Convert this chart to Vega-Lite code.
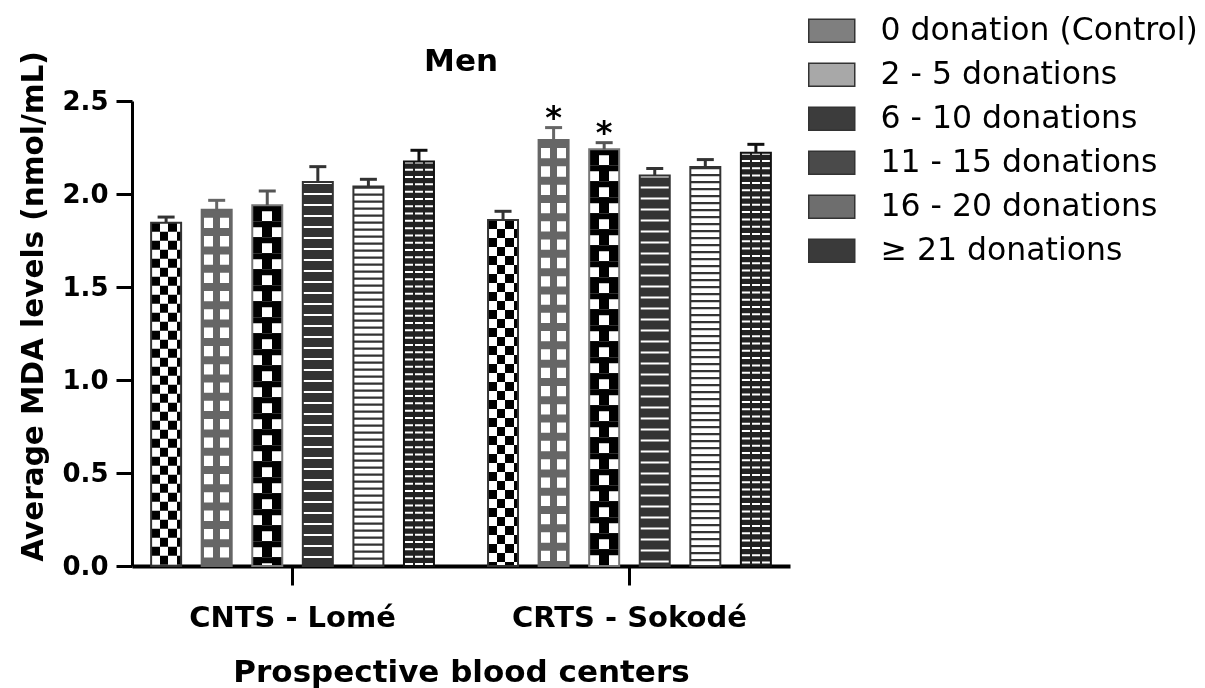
{
  "$schema": "https://vega.github.io/schema/vega-lite/v6.json",
  "autosize": {"type": "none"},
  "padding": {"left": 132, "top": 101, "right": 415, "bottom": 122},
  "width": 658,
  "height": 465,
  "background": "white",
  "config": {"view": {"stroke": null}, "font": "DejaVu Sans"},
  "title": {"text": "Men", "font": "DejaVu Sans", "fontSize": 31, "fontWeight": "bold", "color": "black", "frame": "group", "anchor": "middle", "baseline": "alphabetic", "offset": -87},
  "data": {"values": [
    {"center": "CNTS - Lomé", "group": "0 donation (Control)", "mean": 1.845, "upper": 1.876, "sig": ""},
    {"center": "CNTS - Lomé", "group": "2 - 5 donations", "mean": 1.915, "upper": 1.966, "sig": ""},
    {"center": "CNTS - Lomé", "group": "6 - 10 donations", "mean": 1.94, "upper": 2.016, "sig": ""},
    {"center": "CNTS - Lomé", "group": "11 - 15 donations", "mean": 2.065, "upper": 2.147, "sig": ""},
    {"center": "CNTS - Lomé", "group": "16 - 20 donations", "mean": 2.04, "upper": 2.079, "sig": ""},
    {"center": "CNTS - Lomé", "group": "≥  21 donations", "mean": 2.175, "upper": 2.235, "sig": ""},
    {"center": "CRTS - Sokodé", "group": "0 donation (Control)", "mean": 1.86, "upper": 1.907, "sig": ""},
    {"center": "CRTS - Sokodé", "group": "2 - 5 donations", "mean": 2.29, "upper": 2.357, "sig": "*"},
    {"center": "CRTS - Sokodé", "group": "6 - 10 donations", "mean": 2.24, "upper": 2.276, "sig": "*"},
    {"center": "CRTS - Sokodé", "group": "11 - 15 donations", "mean": 2.1, "upper": 2.137, "sig": ""},
    {"center": "CRTS - Sokodé", "group": "16 - 20 donations", "mean": 2.145, "upper": 2.185, "sig": ""},
    {"center": "CRTS - Sokodé", "group": "≥  21 donations", "mean": 2.222, "upper": 2.267, "sig": ""}
  ]},
  "encoding": {
    "x": {
      "field": "center", "type": "nominal", "sort": ["CNTS - Lomé", "CRTS - Sokodé"],
      "scale": {"paddingInner": 0.147, "paddingOuter": 0.05},
      "axis": {
        "title": "Prospective blood centers", "titleFont": "DejaVu Sans", "titleFontSize": 31, "titleFontWeight": "bold", "titleColor": "black", "titlePadding": 25,
        "labelFont": "DejaVu Sans", "labelFontSize": 29, "labelFontWeight": "bold", "labelColor": "black", "labelAngle": 0, "labelPadding": 18, "labelLimit": 400,
        "tickSize": 19, "tickWidth": 3, "tickColor": "black", "domainColor": "black", "domainWidth": 4, "grid": false
      }
    },
    "xOffset": {
      "field": "group", "type": "nominal",
      "scale": {"domain": ["0 donation (Control)", "2 - 5 donations", "6 - 10 donations", "11 - 15 donations", "16 - 20 donations", "≥  21 donations"], "paddingInner": 0.407, "paddingOuter": 0.045}
    }
  },
  "layer": [
    {
      "mark": {"type": "bar"},
      "encoding": {
        "y": {
          "field": "mean", "type": "quantitative", "title": "Average MDA levels (nmol/mL)",
          "scale": {"domain": [0, 2.5], "nice": false, "zero": true},
          "axis": {
            "values": [0, 0.5, 1, 1.5, 2, 2.5], "format": ".1f", "grid": false,
            "labelFont": "DejaVu Sans", "labelFontSize": 26, "labelFontWeight": "bold", "labelColor": "black", "labelPadding": 8,
            "tickSize": 16, "tickWidth": 3, "tickColor": "black", "domainColor": "black", "domainWidth": 3,
            "titleFont": "DejaVu Sans", "titleFontSize": 29.5, "titleFontWeight": "bold", "titleColor": "black",
            "titleX": -84, "titleY": 205, "titleAngle": -90, "titleBaseline": "bottom", "titleAlign": "center"
          }
        },
        "color": {
          "field": "group", "type": "nominal",
          "scale": {
            "domain": ["0 donation (Control)", "2 - 5 donations", "6 - 10 donations", "11 - 15 donations", "16 - 20 donations", "≥  21 donations"],
            "range": ["#7f7f7f", "#a8a8a8", "#3c3c3c", "#4a4a4a", "#6e6e6e", "#3a3a3a"]
          },
          "legend": {
            "title": null, "orient": "none", "legendX": 684, "legendY": -86,
            "symbolType": "M-2,-1H2V1H-2Z", "symbolSize": 529, "symbolStrokeColor": "#333333", "symbolStrokeWidth": 1.5, "symbolOpacity": 1,
            "labelFont": "DejaVu Sans", "labelFontSize": 31.5, "labelColor": "black", "labelOffset": 33, "labelLimit": 400,
            "rowPadding": 11
          }
        }
      }
    },
    {
      "mark": {"type": "bar"},
      "encoding": {
        "y": {"field": "mean", "type": "quantitative", "title": "Average MDA levels (nmol/mL)"},
        "fill": {"condition": [
          {"test": "datum.group === '11 - 15 donations'", "value": "#333333"},
          {"test": "datum.group === '≥  21 donations'", "value": "#222222"}
        ], "value": "#ffffff"}
      }
    },
    {
      "mark": {"type": "rule", "strokeWidth": 30, "strokeCap": "butt"},
      "encoding": {
        "y": {"field": "mean", "type": "quantitative", "title": "Average MDA levels (nmol/mL)"},
        "y2": {"datum": 0},
        "stroke": {"condition": [
          {"test": "datum.group === '0 donation (Control)'", "value": "#000000"},
          {"test": "datum.group === '2 - 5 donations'", "value": "#666666"},
          {"test": "datum.group === '6 - 10 donations'", "value": "#000000"},
          {"test": "datum.group === '11 - 15 donations'", "value": "#ffffff"},
          {"test": "datum.group === '16 - 20 donations'", "value": "#333333"}
        ], "value": "#ffffff"},
        "strokeDash": {"condition": [
          {"test": "datum.group === '0 donation (Control)'", "value": [9, 9]},
          {"test": "datum.group === '2 - 5 donations'", "value": [8, 10.3]},
          {"test": "datum.group === '6 - 10 donations'", "value": [16, 16]},
          {"test": "datum.group === '11 - 15 donations'", "value": [2, 9]},
          {"test": "datum.group === '16 - 20 donations'", "value": [2.2, 4.8]}
        ], "value": [2, 5.3]}
      }
    },
    {
      "mark": {"type": "bar", "blend": "difference"},
      "encoding": {
        "y": {"field": "mean", "type": "quantitative", "title": "Average MDA levels (nmol/mL)"},
        "fill": {"condition": [
          {"test": "datum.group === '0 donation (Control)'", "value": {"gradient": "linear", "x1": 0, "y1": 0, "x2": 1, "y2": 0, "stops": [
            {"offset": 0, "color": "rgba(255,255,255,0)"}, {"offset": 0.2857, "color": "rgba(255,255,255,0)"},
            {"offset": 0.2857, "color": "#ffffff"}, {"offset": 0.5714, "color": "#ffffff"},
            {"offset": 0.5714, "color": "rgba(255,255,255,0)"}, {"offset": 0.8571, "color": "rgba(255,255,255,0)"},
            {"offset": 0.8571, "color": "#ffffff"}, {"offset": 1, "color": "#ffffff"}]}},
          {"test": "datum.group === '6 - 10 donations'", "value": {"gradient": "linear", "x1": 0, "y1": 0, "x2": 1, "y2": 0, "stops": [
            {"offset": 0, "color": "rgba(255,255,255,0)"}, {"offset": 0.33, "color": "rgba(255,255,255,0)"},
            {"offset": 0.33, "color": "#ffffff"}, {"offset": 0.67, "color": "#ffffff"},
            {"offset": 0.67, "color": "rgba(255,255,255,0)"}, {"offset": 1, "color": "rgba(255,255,255,0)"}]}}
        ], "value": "transparent"}
      }
    },
    {
      "mark": {"type": "rule", "strokeWidth": 30, "strokeCap": "butt", "strokeDash": [6, 10]},
      "encoding": {
        "y": {"field": "mean", "type": "quantitative", "title": "Average MDA levels (nmol/mL)"},
        "y2": {"datum": 0},
        "stroke": {"condition": [
          {"test": "datum.group === '6 - 10 donations'", "value": "#000000"}
        ], "value": "transparent"}
      }
    },
    {
      "mark": {"type": "bar"},
      "encoding": {
        "y": {"field": "mean", "type": "quantitative", "title": "Average MDA levels (nmol/mL)"},
        "fill": {"condition": [
          {"test": "datum.group === '2 - 5 donations'", "value": {"gradient": "linear", "x1": 0, "y1": 0, "x2": 1, "y2": 0, "stops": [
            {"offset": 0, "color": "#666666"}, {"offset": 0.09, "color": "#666666"},
            {"offset": 0.09, "color": "rgba(102,102,102,0)"}, {"offset": 0.39, "color": "rgba(102,102,102,0)"},
            {"offset": 0.39, "color": "#666666"}, {"offset": 0.61, "color": "#666666"},
            {"offset": 0.61, "color": "rgba(102,102,102,0)"}, {"offset": 0.91, "color": "rgba(102,102,102,0)"},
            {"offset": 0.91, "color": "#666666"}, {"offset": 1, "color": "#666666"}]}},
          {"test": "datum.group === '≥  21 donations'", "value": {"gradient": "linear", "x1": 0, "y1": 0, "x2": 1, "y2": 0, "stops": [
            {"offset": 0, "color": "rgba(34,34,34,0)"}, {"offset": 0.3, "color": "rgba(34,34,34,0)"},
            {"offset": 0.3, "color": "#222222"}, {"offset": 0.38, "color": "#222222"},
            {"offset": 0.38, "color": "rgba(34,34,34,0)"}, {"offset": 0.63, "color": "rgba(34,34,34,0)"},
            {"offset": 0.63, "color": "#222222"}, {"offset": 0.71, "color": "#222222"},
            {"offset": 0.71, "color": "rgba(34,34,34,0)"}, {"offset": 1, "color": "rgba(34,34,34,0)"}]}}
        ], "value": "transparent"}
      }
    },
    {
      "mark": {"type": "bar", "fill": "transparent", "strokeWidth": 2},
      "encoding": {
        "y": {"field": "mean", "type": "quantitative", "title": "Average MDA levels (nmol/mL)"},
        "stroke": {"condition": [
          {"test": "datum.group === '2 - 5 donations'", "value": "#666666"},
          {"test": "datum.group === '6 - 10 donations'", "value": "#777777"},
          {"test": "datum.group === '≥  21 donations'", "value": "#111111"}
        ], "value": "#333333"}
      }
    },
    {
      "mark": {"type": "rule", "strokeWidth": 3},
      "encoding": {
        "y": {"field": "mean", "type": "quantitative", "title": "Average MDA levels (nmol/mL)"},
        "y2": {"field": "upper"},
        "stroke": {"condition": [
          {"test": "datum.group === '2 - 5 donations'", "value": "#666666"},
          {"test": "datum.group === '6 - 10 donations'", "value": "#555555"},
          {"test": "datum.group === '≥  21 donations'", "value": "#111111"}
        ], "value": "#333333"}
      }
    },
    {
      "mark": {"type": "tick", "thickness": 3, "size": 17, "opacity": 1},
      "encoding": {
        "y": {"field": "upper", "type": "quantitative", "title": "Average MDA levels (nmol/mL)"},
        "color": {"condition": [
          {"test": "datum.group === '2 - 5 donations'", "value": "#666666"},
          {"test": "datum.group === '6 - 10 donations'", "value": "#555555"},
          {"test": "datum.group === '≥  21 donations'", "value": "#111111"}
        ], "value": "#333333"}
      }
    },
    {
      "mark": {"type": "text", "font": "DejaVu Sans", "fontSize": 32, "fontWeight": "bold", "baseline": "alphabetic", "dy": 0, "color": "black"},
      "encoding": {
        "y": {"field": "upper", "type": "quantitative", "title": "Average MDA levels (nmol/mL)"},
        "text": {"field": "sig"}
      }
    }
  ]
}
